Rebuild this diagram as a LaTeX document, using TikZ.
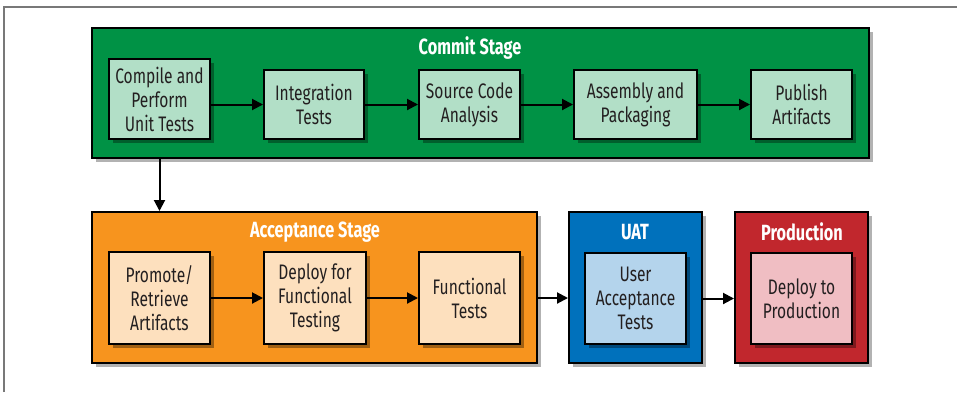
\documentclass[tikz,border=0pt]{standalone}
\usepackage{fontspec}
\setmainfont{Fira Sans}[FakeStretch=0.74]
\usetikzlibrary{arrows.meta,shadows}
\definecolor{cgreen}{RGB}{0,146,69}
\definecolor{cgreenl}{RGB}{178,223,199}
\definecolor{corange}{RGB}{247,148,30}
\definecolor{corangel}{RGB}{253,224,190}
\definecolor{cblue}{RGB}{0,113,188}
\definecolor{cbluel}{RGB}{180,212,236}
\definecolor{cred}{RGB}{193,39,45}
\definecolor{credl}{RGB}{240,190,195}
\definecolor{cframe}{RGB}{120,120,120}
\definecolor{ctext}{RGB}{35,31,32}
\tikzset{
  stage/.style={draw=black, line width=2pt, rectangle, inner sep=0pt,
    drop shadow={shadow xshift=4pt, shadow yshift=-4pt, opacity=0.3, fill=black}},
  task/.style={draw=black, line width=2pt, rectangle, inner sep=0pt, align=center,
    font=\fontsize{21}{24}\selectfont, text=ctext,
    drop shadow={shadow xshift=4pt, shadow yshift=-4pt, opacity=0.35, fill=black}},
  title/.style={text=white, font=\fontsize{22}{24}\selectfont\bfseries, inner sep=0pt},
  flow/.style={line width=2pt, -{Triangle[length=11pt,width=11pt]}}
}
\begin{document}
\begin{tikzpicture}[x=1pt,y=-1pt]
\useasboundingbox (0,0) rectangle (957,392);
\fill[white] (0,0) rectangle (957,392);
\draw[cframe, line width=1.5pt] (4,392) -- (4,7) -- (957,7);
% stages
\node[stage, fill=cgreen, minimum width=777pt, minimum height=130pt] (commit) at (480.5,93) {};
\node[stage, fill=corange, minimum width=445pt, minimum height=151pt] (accept) at (314.5,287.5) {};
\node[stage, fill=cblue, minimum width=133pt, minimum height=151pt] (uat) at (635.5,287.5) {};
\node[stage, fill=cred, minimum width=133pt, minimum height=151pt] (prod) at (801.5,287.5) {};
% titles
\node[title] (tcommit) at (470,48) {Commit Stage};
\node[title] (taccept) at (315,232) {Acceptance Stage};
\node[title] (tuat) at (635,232) {UAT};
\node[title] (tprod) at (802,232) {Production};
% commit tasks
\node[task, fill=cgreenl, minimum width=101pt, minimum height=80pt] (compile) at (159.5,99) {Compile and\\Perform\\Unit Tests};
\node[task, fill=cgreenl, minimum width=100pt, minimum height=69pt] (integ) at (314,104.5) {Integration\\Tests};
\node[task, fill=cgreenl, minimum width=101pt, minimum height=69pt] (source) at (469.5,104.5) {Source Code\\Analysis};
\node[task, fill=cgreenl, minimum width=123pt, minimum height=69pt] (assembly) at (635.5,104.5) {Assembly and\\Packaging};
\node[task, fill=cgreenl, minimum width=101pt, minimum height=69pt] (publish) at (801.5,104.5) {Publish\\Artifacts};
% acceptance tasks
\node[task, fill=corangel, minimum width=101pt, minimum height=92pt] (promote) at (159.5,298) {Promote/\\Retrieve\\Artifacts};
\node[task, fill=corangel, minimum width=102pt, minimum height=92pt] (deployf) at (315,298) {Deploy for\\Functional\\Testing};
\node[task, fill=corangel, minimum width=101pt, minimum height=92pt] (functional) at (469.5,298) {Functional\\Tests};
\node[task, fill=cbluel, minimum width=101pt, minimum height=91pt] (useracc) at (635.5,298.5) {User\\Acceptance\\Tests};
\node[task, fill=credl, minimum width=101pt, minimum height=91pt] (deployp) at (801.5,298.5) {Deploy to\\Production};
% arrows
\draw[flow] (compile.east |- integ.west) -- (integ.west);
\draw[flow] (integ.east) -- (source.west);
\draw[flow] (source.east) -- (assembly.west);
\draw[flow] (assembly.east) -- (publish.west);
\draw[flow] (commit.south -| compile) -- (accept.north -| compile);
\draw[flow] (promote.east) -- (deployf.west);
\draw[flow] (deployf.east) -- (functional.west);
\draw[flow] (accept.east |- functional) -- (uat.west |- functional);
\draw[flow] (uat.east |- deployp) -- (prod.west |- deployp);
\end{tikzpicture}
\end{document}
